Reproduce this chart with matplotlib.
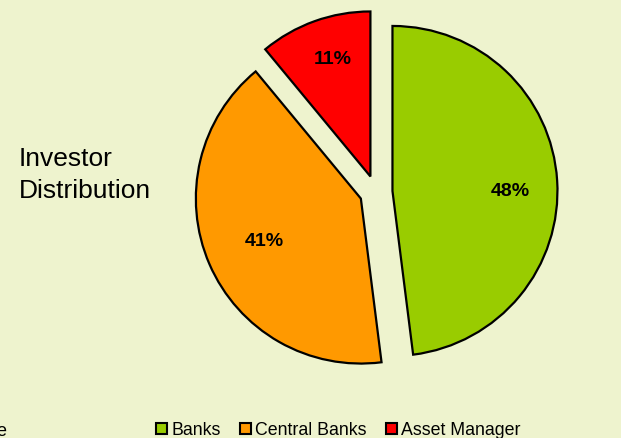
import numpy as np
import matplotlib.pyplot as plt
from matplotlib.patches import Patch

# investor split
categories = ['Banks', 'Central Banks', 'Asset Manager']
shares = [48, 41, 11]
colors = ['#99CC00', '#FF9900', '#FF0000']

# label placement inside each slice: fraction of radius, angle tweak (deg)
label_dist = [0.715, 0.64, 0.75]
label_turn = [-3.6, 0.0, -2.0]

bg = '#EEF3CE'
W, H = 621, 439

plt.rcParams['font.family'] = ['Liberation Sans', 'DejaVu Sans']

fig = plt.figure(figsize=(W / 100, H / 100), dpi=100, facecolor=bg)
ax = fig.add_axes([0, 0, 1, 1])
ax.set_facecolor(bg)

wedges, texts, autotexts = ax.pie(
    shares, colors=colors, startangle=90, counterclock=False,
    explode=[0.1] * len(shares), radius=1,
    autopct='%d%%',
    wedgeprops={'edgecolor': 'black', 'linewidth': 1.6},
    textprops={'fontsize': 14, 'fontweight': 'bold', 'color': 'black'},
)

for w, t, d, turn in zip(wedges, autotexts, label_dist, label_turn):
    ang = np.deg2rad((w.theta1 + w.theta2) / 2 + turn)
    cx, cy = w.center
    t.set_position((cx + d * np.cos(ang), cy + d * np.sin(ang)))

# pixel-scale limits: pie centre at (376, 193), radius 165 px
r = 165.0
ax.set_xlim(-376 / r, (W - 376) / r)
ax.set_ylim(-(H - 193) / r, 193 / r)
ax.set_aspect('auto')
ax.axis('off')

fig.text(19 / W, 1 - 198 / H, 'Investor\nDistribution', fontsize=19,
         ha='left', va='baseline', linespacing=1.42)

fig.text(6 / W, 1 - 436 / H, 'e', fontsize=13, ha='right', va='baseline')

handles = [Patch(facecolor=c, edgecolor='black', linewidth=1.5) for c in colors]
fig.legend(handles, categories, loc='center left',
           bbox_to_anchor=(156 / W, 1 - 431 / H), ncol=3, frameon=False,
           fontsize=12.8, handlelength=0.6, handleheight=0.6,
           handletextpad=0.25, columnspacing=1.1, borderpad=0,
           borderaxespad=0)

fig.savefig('out.png', dpi=100, facecolor=bg)
